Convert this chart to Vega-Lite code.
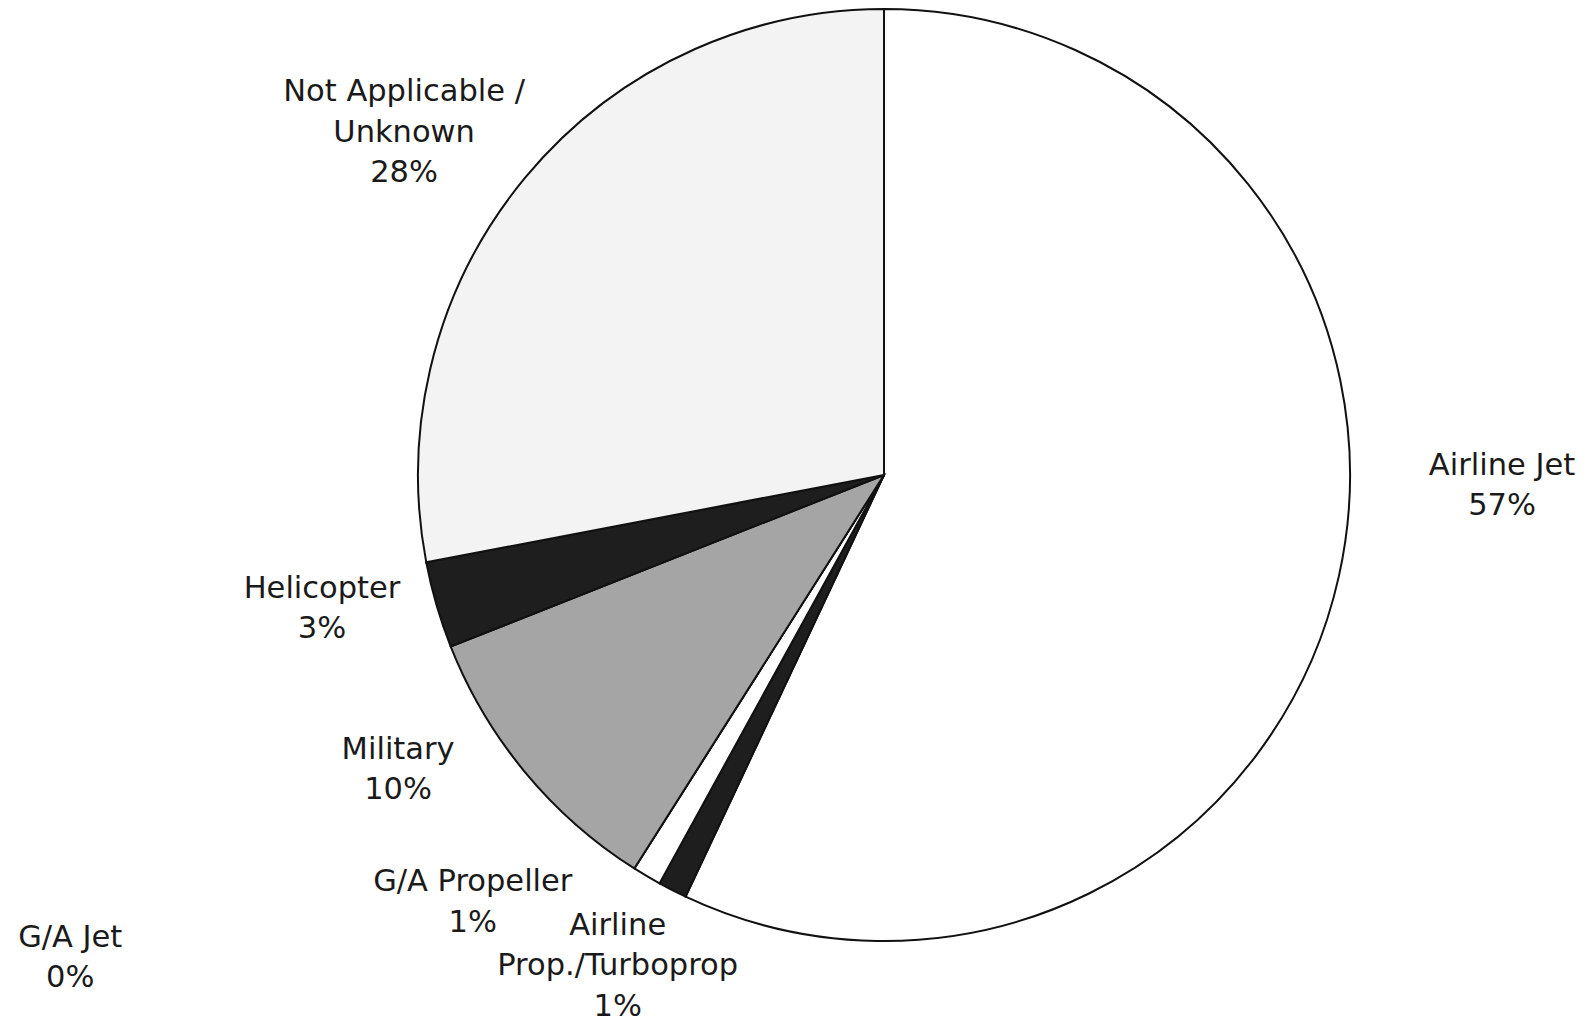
{
  "$schema": "https://vega.github.io/schema/vega-lite/v6.json",
  "autosize": "none",
  "width": 1000,
  "height": 950,
  "padding": {"left": 384, "top": 0, "right": 201, "bottom": 70},
  "background": "white",
  "config": {"view": {"stroke": null}},
  "data": {
    "values": [
      {"order": 1, "name": "Airline Jet", "pct": 57},
      {"order": 2, "name": "Airline\nProp./Turboprop", "pct": 1},
      {"order": 3, "name": "G/A Propeller", "pct": 1},
      {"order": 4, "name": "G/A Jet", "pct": 0},
      {"order": 5, "name": "Military", "pct": 10},
      {"order": 6, "name": "Helicopter", "pct": 3},
      {"order": 7, "name": "Not Applicable /\nUnknown", "pct": 28}
    ]
  },
  "transform": [
    {"stack": "pct", "groupby": [], "sort": [{"field": "order", "order": "ascending"}], "as": ["start", "end"]},
    {"calculate": "(datum.start + datum.end) / 2", "as": "mid"},
    {"calculate": "datum.name + '\\n' + datum.pct + '%'", "as": "label"}
  ],
  "layer": [
    {
      "mark": {"type": "arc", "radius": 466, "stroke": "#111111", "strokeWidth": 2, "strokeJoin": "miter"},
      "encoding": {
        "theta": {"field": "start", "type": "quantitative", "scale": {"domain": [0, 100]}},
        "theta2": {"field": "end"},
        "color": {
          "field": "order",
          "type": "nominal",
          "scale": {
            "domain": [1, 2, 3, 4, 5, 6, 7],
            "range": ["#ffffff", "#1e1e1e", "#ffffff", "#ffffff", "#a5a5a5", "#1e1e1e", "#f3f3f3"]
          },
          "legend": null
        }
      }
    },
    {
      "transform": [{"filter": "datum.order == 1"}],
      "mark": {"type": "text", "radius": 580, "dx": 52, "dy": -136, "align": "center", "baseline": "middle", "lineBreak": "\n", "lineHeight": 40.5, "font": "DejaVu Sans", "fontSize": 30.5, "color": "#1a1a1a"},
      "encoding": {"theta": {"field": "mid", "type": "quantitative"}, "text": {"field": "label"}}
    },
    {
      "transform": [{"filter": "datum.order == 2"}],
      "mark": {"type": "text", "radius": 580, "dx": -3, "dy": -66, "align": "center", "baseline": "middle", "lineBreak": "\n", "lineHeight": 40.5, "font": "DejaVu Sans", "fontSize": 30.5, "color": "#1a1a1a"},
      "encoding": {"theta": {"field": "mid", "type": "quantitative"}, "text": {"field": "label"}}
    },
    {
      "transform": [{"filter": "datum.order == 3"}],
      "mark": {"type": "text", "radius": 580, "dx": -116, "dy": -92, "align": "center", "baseline": "middle", "lineBreak": "\n", "lineHeight": 40.5, "font": "DejaVu Sans", "fontSize": 30.5, "color": "#1a1a1a"},
      "encoding": {"theta": {"field": "mid", "type": "quantitative"}, "text": {"field": "label"}}
    },
    {
      "transform": [{"filter": "datum.order == 4"}],
      "mark": {"type": "text", "radius": 580, "dx": -503, "dy": -27, "align": "center", "baseline": "middle", "lineBreak": "\n", "lineHeight": 40.5, "font": "DejaVu Sans", "fontSize": 30.5, "color": "#1a1a1a"},
      "encoding": {"theta": {"field": "mid", "type": "quantitative"}, "text": {"field": "label"}}
    },
    {
      "transform": [{"filter": "datum.order == 5"}],
      "mark": {"type": "text", "radius": 580, "dx": -39, "dy": -95, "align": "center", "baseline": "middle", "lineBreak": "\n", "lineHeight": 40.5, "font": "DejaVu Sans", "fontSize": 30.5, "color": "#1a1a1a"},
      "encoding": {"theta": {"field": "mid", "type": "quantitative"}, "text": {"field": "label"}}
    },
    {
      "transform": [{"filter": "datum.order == 6"}],
      "mark": {"type": "text", "radius": 580, "dx": -5, "dy": -48, "align": "center", "baseline": "middle", "lineBreak": "\n", "lineHeight": 40.5, "font": "DejaVu Sans", "fontSize": 30.5, "color": "#1a1a1a"},
      "encoding": {"theta": {"field": "mid", "type": "quantitative"}, "text": {"field": "label"}}
    },
    {
      "transform": [{"filter": "datum.order == 7"}],
      "mark": {"type": "text", "radius": 580, "dx": -33, "dy": -13, "align": "center", "baseline": "middle", "lineBreak": "\n", "lineHeight": 40.5, "font": "DejaVu Sans", "fontSize": 30.5, "color": "#1a1a1a"},
      "encoding": {"theta": {"field": "mid", "type": "quantitative"}, "text": {"field": "label"}}
    }
  ]
}
